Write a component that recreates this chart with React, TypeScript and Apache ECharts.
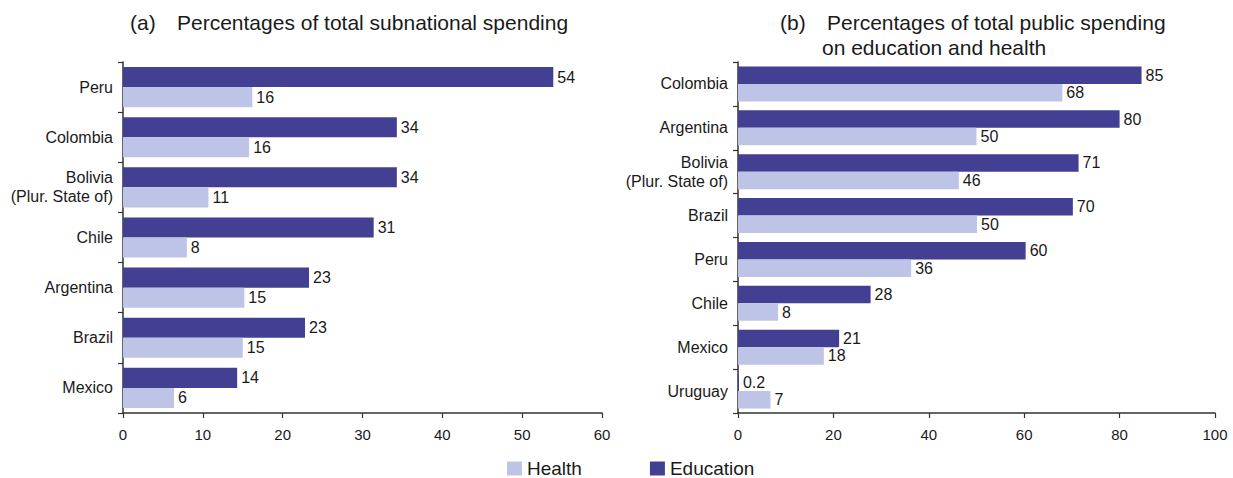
import React, { useEffect, useRef } from "react";
import * as echarts from "echarts";

const categoriesA = ["Peru", "Colombia", "Bolivia\n(Plur. State of)", "Chile", "Argentina", "Brazil", "Mexico"];
const educationA = [53.9, 34.3, 34.3, 31.4, 23.3, 22.8, 14.3];
const healthA = [16.2, 15.8, 10.7, 8.0, 15.2, 15.0, 6.4];

const categoriesB = ["Colombia", "Argentina", "Bolivia\n(Plur. State of)", "Brazil", "Peru", "Chile", "Mexico", "Uruguay"];
const educationB = [84.6, 80.0, 71.4, 70.2, 60.3, 27.8, 21.2, 0.2];
const healthB = [68.0, 50.0, 46.3, 50.1, 36.3, 8.4, 18.0, 6.8];

const titleA = "Percentages of total subnational spending";
const titleB1 = "Percentages of total public spending";
const titleB2 = "on education and health";

const EDU = "#433F93";
const HEALTH = "#BEC4E5";
const TEXT = "#1a1a1a";
const FONT = "'Liberation Sans', Arial, Helvetica, sans-serif";

const fmt = (p: any) => {
  const v = p.value as number;
  return v < 1 ? String(v) : String(Math.round(v));
};

export default function App() {
  const ref = useRef<HTMLDivElement>(null);
  useEffect(() => {
    if (!ref.current) return;
    const chart = echarts.init(ref.current, undefined, { renderer: "svg" });
    const axisLine = { show: true, lineStyle: { color: "#333", width: 1.5 } };
    const xAxisCommon = {
      type: "value" as const,
      min: 0,
      axisLine,
      axisTick: { show: true, length: 5, lineStyle: { color: "#333", width: 1.2 } },
      splitLine: { show: false },
      axisLabel: { color: TEXT, fontSize: 15, margin: 14, fontFamily: FONT },
    };
    const yAxisCommon = {
      type: "category" as const,
      inverse: true,
      axisLine,
      axisTick: { show: true, length: 5, lineStyle: { color: "#333", width: 1.2 } },
      axisLabel: { color: TEXT, fontSize: 16, margin: 10, fontFamily: FONT, align: "right" as const, lineHeight: 19 },
    };
    const label = {
      show: true,
      position: "right" as const,
      distance: 4,
      color: TEXT,
      fontSize: 16,
      fontFamily: FONT,
      formatter: fmt,
    };
    const titleFont = `21px ${FONT}`;
    chart.setOption({
      animation: false,
      textStyle: { fontFamily: FONT },
      grid: [
        { left: 123, right: 631, top: 62, bottom: 65 },
        { left: 738, right: 18, top: 62, bottom: 65 },
      ],
      xAxis: [
        { ...xAxisCommon, gridIndex: 0, max: 60, interval: 10 },
        { ...xAxisCommon, gridIndex: 1, max: 100, interval: 20 },
      ],
      yAxis: [
        { ...yAxisCommon, gridIndex: 0, data: categoriesA },
        { ...yAxisCommon, gridIndex: 1, data: categoriesB },
      ],
      legend: {
        data: ["Health", "Education"],
        left: 507,
        top: 459,
        padding: 0,
        itemWidth: 15,
        itemHeight: 14,
        itemGap: 68,
        icon: "rect",
        textStyle: { color: TEXT, fontSize: 19, lineHeight: 17, fontFamily: FONT },
      },
      series: [
        {
          name: "Education", type: "bar", xAxisIndex: 0, yAxisIndex: 0, data: educationA,
          itemStyle: { color: EDU }, barGap: "0%", barCategoryGap: "20%", label,
        },
        {
          name: "Health", type: "bar", xAxisIndex: 0, yAxisIndex: 0, data: healthA,
          itemStyle: { color: HEALTH }, barGap: "0%", barCategoryGap: "20%", label,
        },
        {
          name: "Education", type: "bar", xAxisIndex: 1, yAxisIndex: 1, data: educationB,
          itemStyle: { color: EDU }, barGap: "0%", barCategoryGap: "20%", label,
        },
        {
          name: "Health", type: "bar", xAxisIndex: 1, yAxisIndex: 1, data: healthB,
          itemStyle: { color: HEALTH }, barGap: "0%", barCategoryGap: "20%", label,
        },
      ],
      graphic: [
        { type: "text", x: 130, y: 22, style: { text: "(a)", fill: TEXT, font: titleFont, verticalAlign: "middle" } },
        { type: "text", x: 177, y: 22, style: { text: titleA, fill: TEXT, font: titleFont, verticalAlign: "middle" } },
        { type: "text", x: 780, y: 22, style: { text: "(b)", fill: TEXT, font: titleFont, verticalAlign: "middle" } },
        { type: "text", x: 827, y: 22, style: { text: titleB1, fill: TEXT, font: titleFont, verticalAlign: "middle" } },
        { type: "text", x: 822, y: 47, style: { text: titleB2, fill: TEXT, font: titleFont, verticalAlign: "middle" } },
      ],
    });
    return () => chart.dispose();
  }, []);
  return (
    <div
      ref={ref}
      style={{ position: "fixed", left: 0, top: 0, width: 1233, height: 478, background: "#fff" }}
    />
  );
}
